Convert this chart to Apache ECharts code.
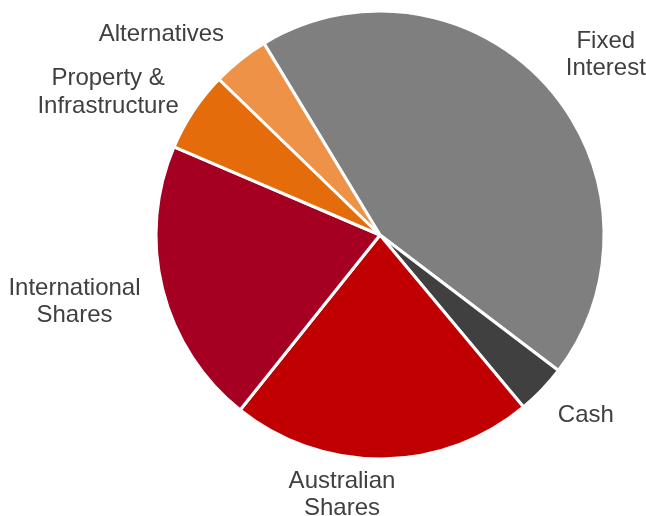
<!DOCTYPE html>
<html>
<head>
<meta charset="utf-8">
<script src="https://cdn.jsdelivr.net/npm/echarts@6/dist/echarts.min.js"></script>
<style>
html,body{margin:0;padding:0;background:#fff;}
#chart{width:646px;height:516px;}
</style>
</head>
<body>
<div id="chart"></div>
<script>
// Data
var categories = ['Fixed Interest', 'Cash', 'Australian Shares', 'International Shares', 'Property & Infrastructure', 'Alternatives'];
var labelText = ['Fixed\nInterest', 'Cash', 'Australian\nShares', 'International\nShares', 'Property &\nInfrastructure', 'Alternatives'];
var values = [44.0, 3.6, 21.8, 20.7, 5.8, 4.1];
var colors = ['#7F7F7F', '#404040', '#C00000', '#A50021', '#E46C0A', '#EE9247'];

// label nudges (layout only)
var labelNudge = [[0, -13], [-3, 8], [-94, 10], [3, 6], [7, -4], [0, -5]];

var chart = echarts.init(document.getElementById('chart'), null, {renderer: 'canvas'});
var data = categories.map(function (c, i) {
  return { name: c, value: values[i], itemStyle: { color: colors[i] } };
});
chart.setOption({
  animation: false,
  backgroundColor: '#ffffff',
  series: [{
    type: 'pie',
    center: [380, 235],
    radius: 224,
    startAngle: 121.2,
    clockwise: true,
    avoidLabelOverlap: false,
    data: data,
    itemStyle: { borderColor: '#ffffff', borderWidth: 3 },
    label: {
      show: true,
      position: 'outside',
      distanceToLabelLine: 0,
      fontFamily: 'Liberation Sans, Arial, sans-serif',
      fontSize: 24,
      lineHeight: 27.6,
      color: '#404040',
      formatter: function (p) {
        return labelText[p.dataIndex].split('\n').map(function (s) { return '{c|' + s + '}'; }).join('\n');
      },
      rich: {
        c: { align: 'center', fontSize: 24, lineHeight: 27.6, color: '#404040', fontFamily: 'Liberation Sans, Arial, sans-serif' }
      }
    },
    labelLine: { show: false, length: 26, length2: 0 },
    labelLayout: function (p) {
      var n = labelNudge[p.dataIndex];
      return { dx: n[0], dy: n[1] };
    },
    emphasis: { disabled: true }
  }]
});
</script>
</body>
</html>
